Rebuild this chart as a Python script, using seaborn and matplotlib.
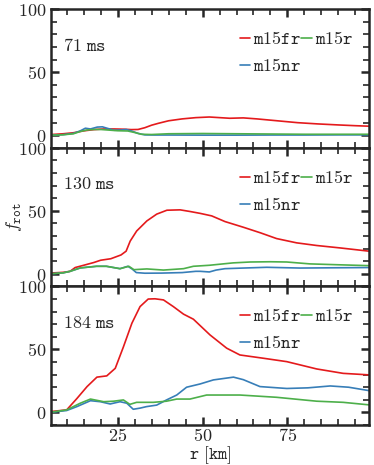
import numpy as np
import pandas as pd
import matplotlib
matplotlib.use("Agg")
import matplotlib.pyplot as plt
import seaborn as sns
from matplotlib.ticker import MultipleLocator, FuncFormatter

# snapshot times (ms)
times = ["71", "130", "184"]

# --- 71 ms ---
r_fr_71 = [5, 9, 12, 15, 18, 21, 24, 27, 29, 31, 33, 35, 37, 40, 44, 48, 52, 55, 58, 62, 66, 72, 78, 84, 90, 95, 99]
v_fr_71 = [0.5, 1.2, 2, 3.5, 4.5, 5, 5, 4.8, 4.5, 4.6, 6, 8, 9.5, 11.5, 13, 14, 14.5, 14, 13.5, 13.8, 13, 11.5, 10, 9, 8.2, 7.6, 7.2]
r_nr_71 = [5, 9, 12, 14, 15.5, 17, 19, 20.5, 22, 24, 26, 27.5, 29, 31, 33, 36, 40, 50, 60, 70, 80, 90, 99]
v_nr_71 = [0, 0.5, 1.5, 3.5, 5.6, 5, 6.5, 6.7, 5.5, 4, 4.2, 4.6, 3.5, 1.5, 0.3, 0.2, 0.2, 0.1, 0.1, 0.2, 0.2, 0.3, 0.3]
r_r_71 = [5, 9, 12, 14, 16, 18, 20, 22, 25, 28, 30, 32, 35, 40, 50, 60, 70, 80, 90, 99]
v_r_71 = [0, 0.4, 1.2, 3, 4.2, 4.6, 4.6, 4.2, 3.6, 3.4, 2.2, 0.8, 0.6, 1.2, 1.4, 1.2, 1.0, 0.8, 0.8, 0.8]

# --- 130 ms ---
r_fr_130 = [5, 9, 11, 12.5, 15, 18, 20, 23, 26, 27.5, 28.7, 30.6, 33.6, 36.5, 39.5, 43.4, 46.3, 49.3, 52.7, 56.6, 62, 67, 71.8, 77.7, 83.6, 90.4, 99]
v_fr_130 = [0.6, 1.2, 2, 5, 6.8, 9, 10.8, 12, 15, 18, 26, 34, 42, 47.4, 50.5, 50.8, 49.5, 48, 46, 41.5, 37, 32.6, 28, 24.6, 22.5, 20.6, 18]
r_nr_130 = [5, 9, 11, 14, 18.8, 21.7, 25.7, 28, 29.2, 30.5, 33, 38, 44, 48, 49.3, 52, 54, 56.6, 62, 68.9, 78.7, 88, 99]
v_nr_130 = [0, 0.8, 2, 4.7, 6, 6, 4.1, 6, 4, 1, 0.5, 0.6, 1, 2, 2, 1.5, 3, 4.1, 4.6, 5.2, 4.6, 4.8, 5]
r_r_130 = [5, 9, 11, 14, 18.8, 21.7, 25.7, 28.3, 29.8, 31, 33.6, 38.5, 44.4, 47.3, 52, 59, 64, 70, 74.8, 81.6, 90, 99]
v_r_130 = [0, 0.8, 2, 4.7, 6, 6, 4.1, 6, 3.3, 3.5, 3.9, 3, 4.1, 6, 6.8, 8.7, 9.4, 9.6, 9.4, 7.9, 7.2, 6.5]

# --- 184 ms ---
r_fr_184 = [5, 10, 13, 16, 18.9, 21.8, 24.3, 26.7, 29.2, 31.6, 34, 36, 38.5, 41.4, 44.4, 47.3, 52.2, 57.1, 61, 67.9, 74.8, 83.6, 91.4, 99]
v_fr_184 = [0.6, 2, 11, 20.5, 28, 29, 35, 52, 70.8, 84, 90, 90.2, 89.3, 84, 78, 74, 61.5, 51, 45.6, 43, 40.3, 34.5, 31, 29.8]
r_nr_184 = [5, 10, 13, 17, 19.9, 22.8, 25.7, 27.7, 29.6, 31.6, 33.5, 36.5, 39.4, 42.4, 45.3, 49.3, 53.2, 59.1, 62, 66.9, 74.8, 81, 87.6, 93, 99]
v_nr_184 = [0, 1.5, 4.6, 9.3, 8.5, 6.7, 8.5, 7.3, 2.5, 3.4, 4.6, 5.8, 9.9, 13.8, 20, 22.6, 25.8, 28, 26, 20.5, 19, 19.5, 21, 20, 17.3]
r_r_184 = [5, 10, 14, 17, 20.9, 23.8, 26.7, 28.6, 30.6, 35.5, 39.4, 42.4, 46.3, 51.2, 61, 71.8, 83.6, 91.4, 99]
v_r_184 = [0, 2, 7.3, 10.6, 8.5, 8.9, 9.9, 6.4, 8, 8, 8.9, 10.6, 10.6, 13.8, 13.8, 12, 8.9, 8, 6]

models = ["m15fr", "m15nr", "m15r"]
colors = {"m15fr": "#e41a1c", "m15nr": "#377eb8", "m15r": "#4daf4a"}

panels = [
    {"m15fr": (r_fr_71, v_fr_71), "m15nr": (r_nr_71, v_nr_71), "m15r": (r_r_71, v_r_71)},
    {"m15fr": (r_fr_130, v_fr_130), "m15nr": (r_nr_130, v_nr_130), "m15r": (r_r_130, v_r_130)},
    {"m15fr": (r_fr_184, v_fr_184), "m15nr": (r_nr_184, v_nr_184), "m15r": (r_r_184, v_r_184)},
]

sns.set_style("ticks")
plt.rcParams["mathtext.fontset"] = "cm"
plt.rcParams["font.family"] = ["DejaVu Serif"]

fig, axes = plt.subplots(3, 1, figsize=(3.74, 4.65), dpi=100, sharex=True)
fig.subplots_adjust(left=0.1356, right=0.9866, top=0.980, bottom=0.086, hspace=0)

tex = FuncFormatter(lambda v, p: f"${v:g}$")

for ax, t, data in zip(axes, times, panels):
    for m in models:
        rr, vv = data[m]
        df = pd.DataFrame({"r": rr, "f": vv})
        sns.lineplot(data=df, x="r", y="f", ax=ax, color=colors[m], lw=1.2,
                     label=rf"$\mathtt{{{m}}}$")
    ax.set_xlim(5.3, 99)
    ax.set_ylim(-10, 100)
    ax.xaxis.set_major_locator(MultipleLocator(25))
    ax.xaxis.set_minor_locator(MultipleLocator(5))
    ax.yaxis.set_major_locator(MultipleLocator(50))
    ax.yaxis.set_minor_locator(MultipleLocator(10))
    ax.xaxis.set_major_formatter(tex)
    ax.yaxis.set_major_formatter(tex)
    ax.tick_params(which="both", direction="in", top=True, right=True, labelsize=13, width=1.2, pad=3)
    ax.tick_params(axis="x", pad=1.5)
    ax.tick_params(which="major", length=6, width=1.8)
    ax.tick_params(which="minor", length=4)
    for s in ax.spines.values():
        s.set_linewidth(1.8)
    ax.set_ylabel("")
    ax.set_xlabel("")
    ax.text(0.04, 0.70, rf"$\mathtt{{{t}\ ms}}$", transform=ax.transAxes, fontsize=13)
    ax.legend(ncol=2, loc="upper right", bbox_to_anchor=(0.99, 0.94), frameon=False,
              handlelength=0.6, handletextpad=0.15, columnspacing=0.0,
              labelspacing=0.5, borderpad=0.2, fontsize=13)

axes[1].set_ylabel(r"$f_{\mathtt{rot}}$", fontsize=13)
axes[1].yaxis.set_label_coords(-0.085, 0.5)
axes[2].set_xlabel(r"$\mathtt{r\ [km]}$", fontsize=12.5)
axes[2].xaxis.set_label_coords(0.5, -0.14)

fig.savefig("out.png", dpi=100)
